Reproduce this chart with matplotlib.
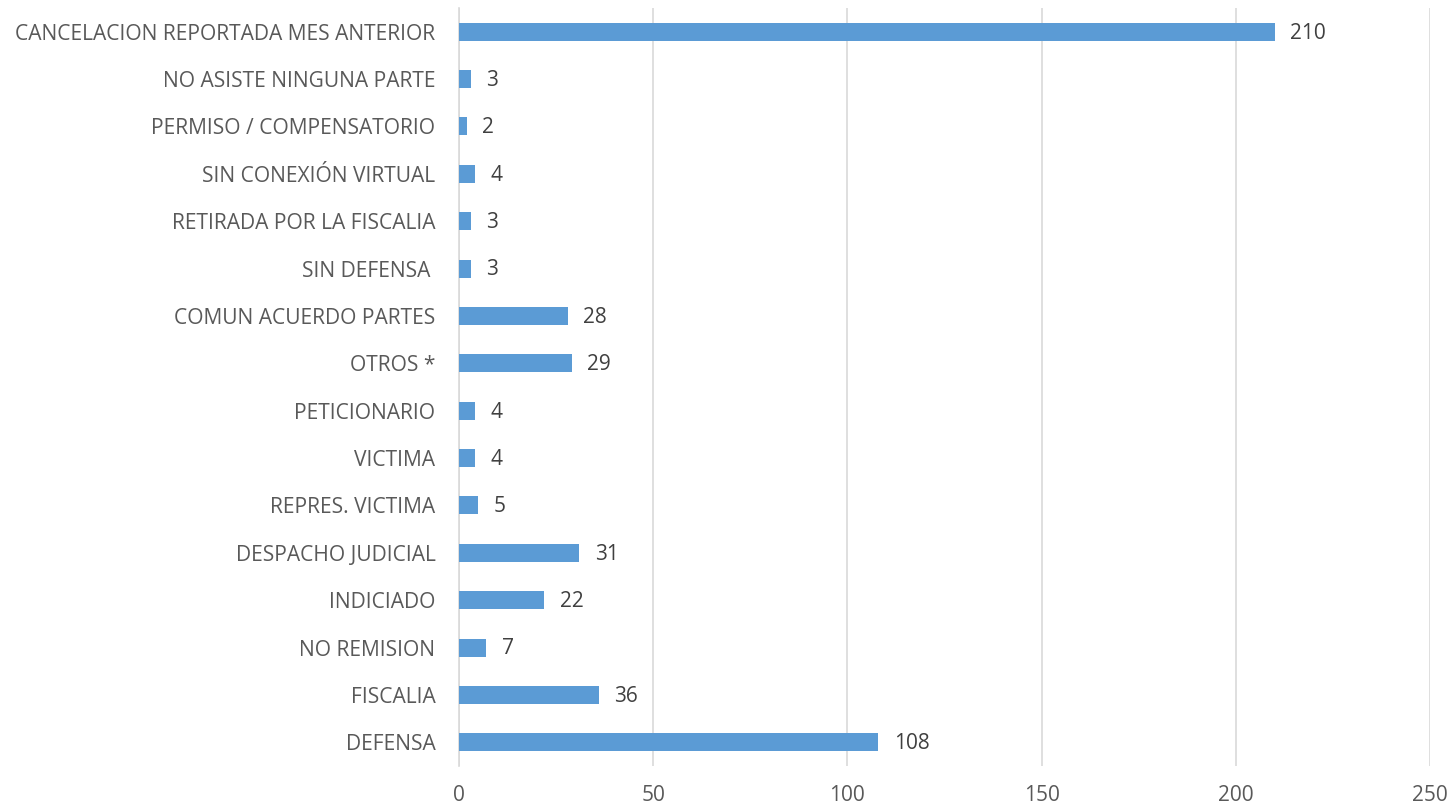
import matplotlib.pyplot as plt

plt.rcParams['font.family'] = ['Open Sans', 'DejaVu Sans']

# Datos (de abajo hacia arriba)
categorias = ["DEFENSA", "FISCALIA", "NO REMISION", "INDICIADO", "DESPACHO JUDICIAL",
              "REPRES. VICTIMA", "VICTIMA", "PETICIONARIO", "OTROS *",
              "COMUN ACUERDO PARTES", "SIN DEFENSA ", "RETIRADA POR LA FISCALIA",
              "SIN CONEXIÓN VIRTUAL", "PERMISO / COMPENSATORIO",
              "NO ASISTE NINGUNA PARTE", "CANCELACION REPORTADA MES ANTERIOR"]
valores = [108, 36, 7, 22, 31, 5, 4, 4, 29, 28, 3, 3, 4, 2, 3, 210]
ticks_x = [0, 50, 100, 150, 200, 250]

texto = "#595959"

fig = plt.figure(figsize=(14.52, 8.06), dpi=100)
ax = fig.add_axes([459 / 1452, 40 / 806, (1430 - 459) / 1452, 758 / 806])

pos = range(len(categorias))
ax.barh(pos, valores, height=0.38, color="#5B9BD5", zorder=3)

for p, v in zip(pos, valores):
    ax.text(v + 4, p - 0.03, str(v), va="center", ha="left", fontsize=15, color="#404040")

ax.set_xlim(0, 250)
ax.set_ylim(-0.5, len(categorias) - 0.5)
ax.set_xticks(ticks_x)
ax.set_yticks(list(pos))
ax.set_yticklabels(categorias)
ax.tick_params(axis="y", length=0, pad=17, labelsize=15.1, labelcolor=texto)
ax.tick_params(axis="x", length=0, pad=14, labelsize=15, labelcolor=texto)

ax.grid(axis="x", color="#D9D9D9", linewidth=1.2, zorder=0)
for s in ["top", "right", "bottom"]:
    ax.spines[s].set_visible(False)
ax.spines["left"].set_color("#D9D9D9")
ax.spines["left"].set_linewidth(1.2)

plt.savefig("out.png", dpi=100)
